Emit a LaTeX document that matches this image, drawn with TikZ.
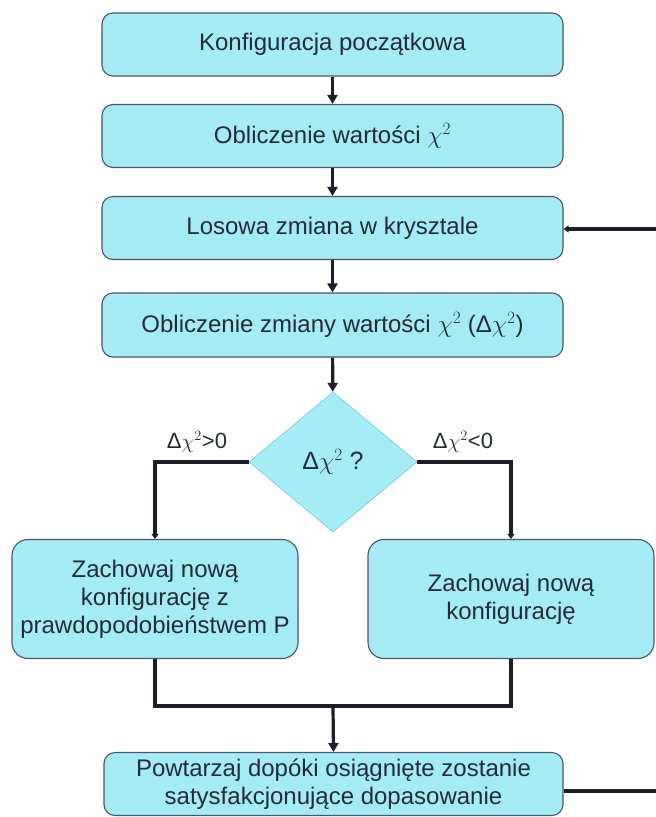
\documentclass[tikz,border=0pt]{standalone}
\usepackage{fontspec}
\setmainfont{Liberation Sans}
\usetikzlibrary{arrows.meta,shapes.geometric,calc}
\definecolor{boxfill}{HTML}{A6ECF7}
\definecolor{boxline}{HTML}{4A5663}
\definecolor{txt}{HTML}{222B36}
\definecolor{conn}{HTML}{1C1F26}
\definecolor{diaedge}{HTML}{7FCFE0}
\begin{document}
\begin{tikzpicture}[x=1pt,y=-1pt,
  procbox/.style={draw=boxline, line width=1.1pt, fill=boxfill, rounded corners=11pt,
    text=txt, font=\fontsize{24}{28}\selectfont, align=center, inner sep=0pt,
    minimum width=#1, minimum height=63pt},
  procbox/.default=461pt,
  decide/.style={diamond, draw=diaedge, line width=0.8pt, fill=boxfill, text=txt,
    font=\fontsize{25}{28}\selectfont, inner sep=0pt, minimum width=168pt, minimum height=140pt},
  lbl/.style={text=txt, font=\fontsize{22}{25}\selectfont, inner sep=0pt},
  conline/.style={draw=conn, line width=3.2pt},
  bigarrow/.style={conline, -{Triangle[length=9pt,width=10pt]}},
  smallarrow/.style={conline, -{Triangle[length=5pt,width=7pt]}}
]
\useasboundingbox (0,0) rectangle (656,817);

\node[procbox] (b1) at (332.5,44.5) {Konfiguracja początkowa};
\node[procbox] (b2) at (332.5,136) {Obliczenie wartości \(\chi^{2}\)};
\node[procbox] (b3) at (332.5,228) {Losowa zmiana w krysztale};
\node[procbox, minimum height=64pt] (b4) at (332.5,325) {Obliczenie zmiany wartości \(\chi^{2}\) (Δ\(\chi^{2}\))};
\node[decide] (dia) at (333,462) {Δ\(\chi^{2}\) ?};
\node[procbox=286pt, minimum height=119pt, rounded corners=16pt] (b5) at (155,599)
  {Zachowaj nową\\konfigurację z\\prawdopodobieństwem P};
\node[procbox=286pt, minimum height=119pt, rounded corners=16pt] (b6) at (511,599)
  {Zachowaj nową\\konfigurację};
\node[procbox=459pt, minimum height=63pt] (b7) at (333.5,784)
  {Powtarzaj dopóki osiągnięte zostanie\\satysfakcjonujące dopasowanie};

\node[lbl] (lpos) at (197,442) {Δ\(\chi^{2}\)>0};
\node[lbl] (lneg) at (463,442) {Δ\(\chi^{2}\)<0};

\coordinate (lc) at (155,462);
\coordinate (rc) at (511,462);
\coordinate (ml) at (155,706);
\coordinate (mr) at (511,706);
\coordinate (mm) at (333,706);
\coordinate (fbin) at (656,229);
\coordinate (fbout) at (656,791);

\draw[bigarrow] (b1) -- (b2);
\draw[bigarrow] (b2) -- (b3);
\draw[bigarrow] (b3) -- (b4);
\draw[bigarrow] (b4) -- (dia);

\draw[smallarrow] (dia.west) -- (lc) -- (b5.north);
\draw[smallarrow] (dia.east) -- (rc) -- (b6.north);

\draw[conline] (b5.south) -- (ml) -- (mr) -- (b6.south);
\draw[bigarrow] (mm) -- (b7.north);

\draw[conline] (fbout -| b7.east) -- (fbout);
\draw[smallarrow] (fbin) -- (fbin -| b3.east);
\end{tikzpicture}
\end{document}
